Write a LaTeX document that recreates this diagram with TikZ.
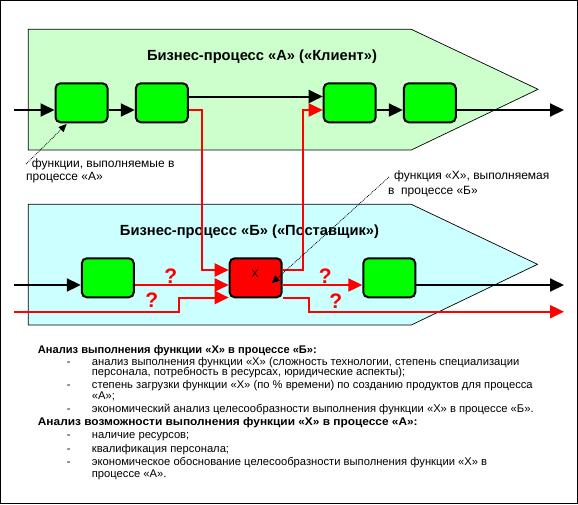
\documentclass[tikz,border=0pt]{standalone}
\usepackage{fontspec}
\setmainfont{Liberation Sans}
\usetikzlibrary{arrows.meta}
\definecolor{procA}{HTML}{CCFFCC}
\definecolor{procB}{HTML}{CCFFFF}
\definecolor{fgreen}{HTML}{00FF00}
\definecolor{fred}{HTML}{FF0000}
\begin{document}
\begin{tikzpicture}[x=1pt,y=-1pt,
  fnbox/.style={draw=black, line width=2pt, rounded corners=5pt, minimum width=52pt, minimum height=39pt, inner sep=0pt, fill=fgreen},
  blk/.style={draw=black, line width=2pt, -{Triangle[length=14pt,width=13pt]}},
  rd/.style={draw=fred, line width=2pt, -{Triangle[length=14pt,width=13pt]}},
  note/.style={draw=black, densely dotted, line width=0.8pt, -{Triangle[length=8pt,width=7pt]}},
  lbl/.style={anchor=west, inner sep=0pt, font=\fontsize{12}{14}\selectfont},
  ttl/.style={inner sep=0pt, font=\fontsize{14.7}{16}\selectfont\bfseries},
  qm/.style={inner sep=0pt, text=fred, font=\fontsize{21}{22}\selectfont\bfseries},
  txt/.style={anchor=west, inner sep=0pt, text height=8pt, text depth=2.5pt, font=\fontsize{11.2}{12}\selectfont},
  hd/.style={anchor=west, inner sep=0pt, text height=8pt, text depth=2.5pt, font=\fontsize{11.1}{12}\selectfont\bfseries}
]
\useasboundingbox (0,0) rectangle (578,504);
\draw[line width=1pt] (0.5,0.5) rectangle (577.5,503.5);
% process pentagons
\draw[fill=procA, line width=0.7pt] (28.3,29.3) -- (411.3,29.3) -- (538,89.3) -- (411.3,150) -- (28.3,150) -- cycle;
\draw[fill=procB, line width=0.7pt] (28.3,204.3) -- (411.3,204.3) -- (537.5,264.3) -- (411.3,325) -- (28.3,325) -- cycle;
\node[ttl] (tA) at (262,57) {Бизнес-процесс «А» («Клиент»)};
\node[ttl] (tB) at (249.5,231.7) {Бизнес-процесс «Б» («Поставщик»)};
% boxes
\node[fnbox] (a1) at (81.5,102.8) {};
\node[fnbox] (a2) at (161.8,102.8) {};
\node[fnbox] (a3) at (349.7,102.8) {};
\node[fnbox] (a4) at (429.8,102.8) {};
\node[fnbox] (b1) at (107.8,277.8) {};
\node[fnbox, fill=fred] (x) at (255.7,277.8) {};
\node[inner sep=0pt, font=\fontsize{11}{12}\selectfont] (xl) at (255,274) {Х};
\node[fnbox] (b3) at (389.3,277.8) {};
% coordinates
\coordinate (inA) at (14,110);
\coordinate (outA) at (564,110);
\coordinate (inB) at (14,285);
\coordinate (outB) at (564,285);
\coordinate (inB2) at (14,311.7);
\coordinate (outB2) at (564,311.7);
% black flows in A
\draw[blk] (inA) -- (inA -| a1.west);
\draw[blk] (a1.east |- inA) -- (a2.west |- inA);
\draw[blk] (a2.east |- 0,96.5) -- (a3.west |- 0,96.5);
\draw[blk] (a3.east |- inA) -- (a4.west |- inA);
\draw[blk] (a4.east |- inA) -- (outA);
% red links between the processes
\draw[rd] (a2.east |- inA) -- (201.7,110) -- (201.7,270) -- (x.west |- 0,270);
\draw[rd] (x.east |- 0,270) -- (302.7,270) -- (302.7,110) -- (a3.west |- inA);
% flows in B
\draw[blk] (inB) -- (inB -| b1.west);
\draw[rd] (b1.east |- inB) -- (x.west |- inB);
\draw[rd] (inB2) -- (179.3,311.7) -- (179.3,297.5) -- (x.west |- 0,297.5);
\draw[rd] (x.east |- inB) -- (b3.west |- inB);
\draw[rd] (x.east |- 0,297.5) -- (309,297.5) -- (309,311.7) -- (outB2);
\draw[blk] (b3.east |- inB) -- (outB);
% question marks
\node[qm] (q1) at (170.7,276) {?};
\node[qm] (q2) at (151.7,300) {?};
\node[qm] (q3) at (325.3,276) {?};
\node[qm] (q4) at (335.7,301.5) {?};
% annotations
\coordinate (n1) at (26,164);
\coordinate (n1t) at (66.7,124);
\draw[note] (n1) -- (n1t);
\node[lbl] (l1) at (31.7,164) {функции, выполняемые в};
\node[lbl] (l2) at (26,177.5) {процессе «А»};
\coordinate (n2) at (389,177);
\coordinate (n2t) at (271.7,283.3);
\draw[note] (n2) -- (n2t);
\node[lbl] (l3) at (394,176.7) {функция «Х», выполняемая};
\node[lbl] (l4) at (388,191.7) {в\ \ процессе «Б»};
% text
\node[hd] (h1) at (37.7,351) {Анализ выполнения функции «Х» в процессе «Б»:};
\node[txt] (d1) at (66.7,362.3) {-};
\node[txt] (t1) at (91.7,362.3) {анализ выполнения функции «Х» (сложность технологии, степень специализации};
\node[txt] (t1b) at (91.7,373) {персонала, потребность в ресурсах, юридические аспекты);};
\node[txt] (d2) at (66.7,385.7) {-};
\node[txt] (t2) at (91.7,385.7) {степень загрузки функции «Х» (по \% времени) по созданию продуктов для процесса};
\node[txt] (t2b) at (91.7,396.7) {«А»;};
\node[txt] (d3) at (66.7,410) {-};
\node[txt] (t3) at (91.7,410) {экономический анализ целесообразности выполнения функции «Х» в процессе «Б».};
\node[hd] (h2) at (37.7,422.3) {\scalebox{1.07}[1]{Анализ возможности выполнения функции «Х» в процессе «А»:}};
\node[txt] (d4) at (66.7,436) {-};
\node[txt] (t4) at (91.7,436) {наличие ресурсов;};
\node[txt] (d5) at (66.7,449.3) {-};
\node[txt] (t5) at (91.7,449.3) {квалификация персонала;};
\node[txt] (d6) at (66.7,462.7) {-};
\node[txt] (t6) at (91.7,462.7) {экономическое обоснование целесообразности выполнения функции «Х» в};
\node[txt] (t6b) at (91.7,475) {процессе «А».};
\end{tikzpicture}
\end{document}
